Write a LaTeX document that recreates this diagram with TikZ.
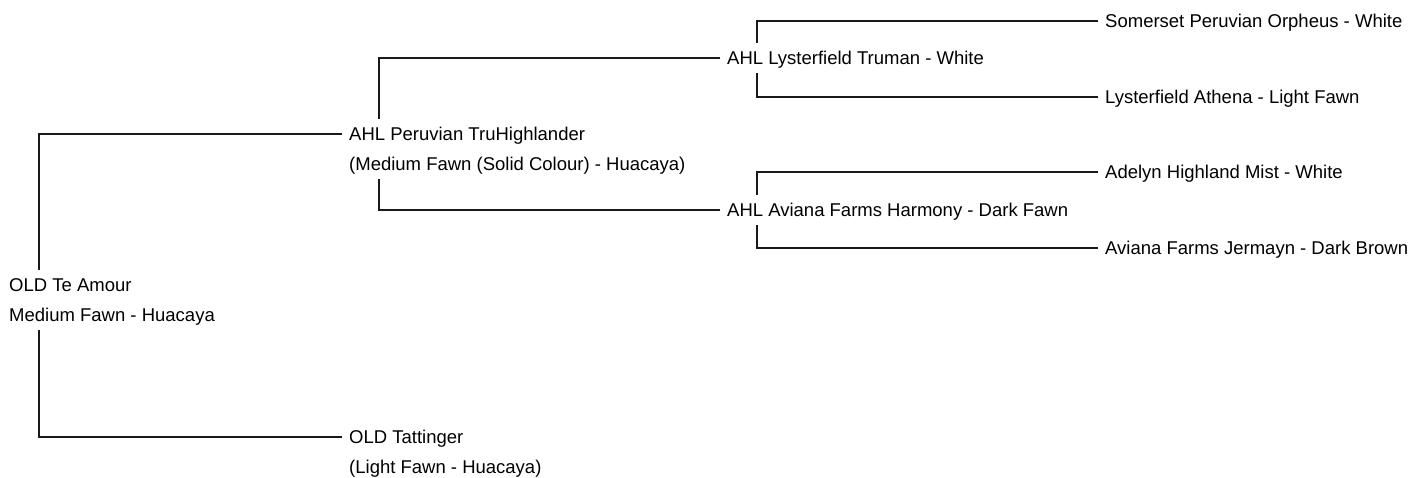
\documentclass[tikz,border=0pt]{standalone}
\usepackage{fontspec}
\setmainfont{Liberation Sans}
\usetikzlibrary{calc}
\begin{document}
\begin{tikzpicture}[x=1pt,y=-1pt,
  lbl/.style={anchor=west,inner sep=0pt,text height=13.25pt,text depth=0pt,
    minimum height=30pt,font=\fontsize{18.5}{22}\selectfont,text=black},
  conn/.style={line width=1.3pt,draw=black!90,shorten <=7pt}]
\useasboundingbox (0,0) rectangle (1424,478);
\node[lbl] (root) at (9,285) {OLD Te Amour};
\node[lbl] (rootsub) at (9,315) {Medium Fawn - Huacaya};
\node[lbl] (sire) at (349,134) {AHL Peruvian TruHighlander};
\node[lbl] (siresub) at (349,164) {(Medium Fawn (Solid Colour) - Huacaya)};
\node[lbl] (dam) at (349,437) {OLD Tattinger};
\node[lbl] (damsub) at (349,467) {(Light Fawn - Huacaya)};
\node[lbl] (ss) at (727,58) {AHL Lysterfield Truman - White};
\node[lbl] (sd) at (727,210) {AHL Aviana Farms Harmony - Dark Fawn};
\node[lbl] (sss) at (1105,21) {Somerset Peruvian Orpheus - White};
\node[lbl] (ssd) at (1105,97) {Lysterfield Athena - Light Fawn};
\node[lbl] (sds) at (1105,172) {Adelyn Highland Mist - White};
\node[lbl] (sdd) at (1105,248) {Aviana Farms Jermayn - Dark Brown};
\draw[conn] (sire.west) -| ([xshift=30pt]root.north west);
\draw[conn] (dam.west) -| ([xshift=30pt]rootsub.south west);
\draw[conn] (ss.west) -| ([xshift=30pt]sire.north west);
\draw[conn] (sd.west) -| ([xshift=30pt]siresub.south west);
\draw[conn] (sss.west) -| ([xshift=30pt]ss.north west);
\draw[conn] (ssd.west) -| ([xshift=30pt]ss.south west);
\draw[conn] (sds.west) -| ([xshift=30pt]sd.north west);
\draw[conn] (sdd.west) -| ([xshift=30pt]sd.south west);
\end{tikzpicture}
\end{document}
